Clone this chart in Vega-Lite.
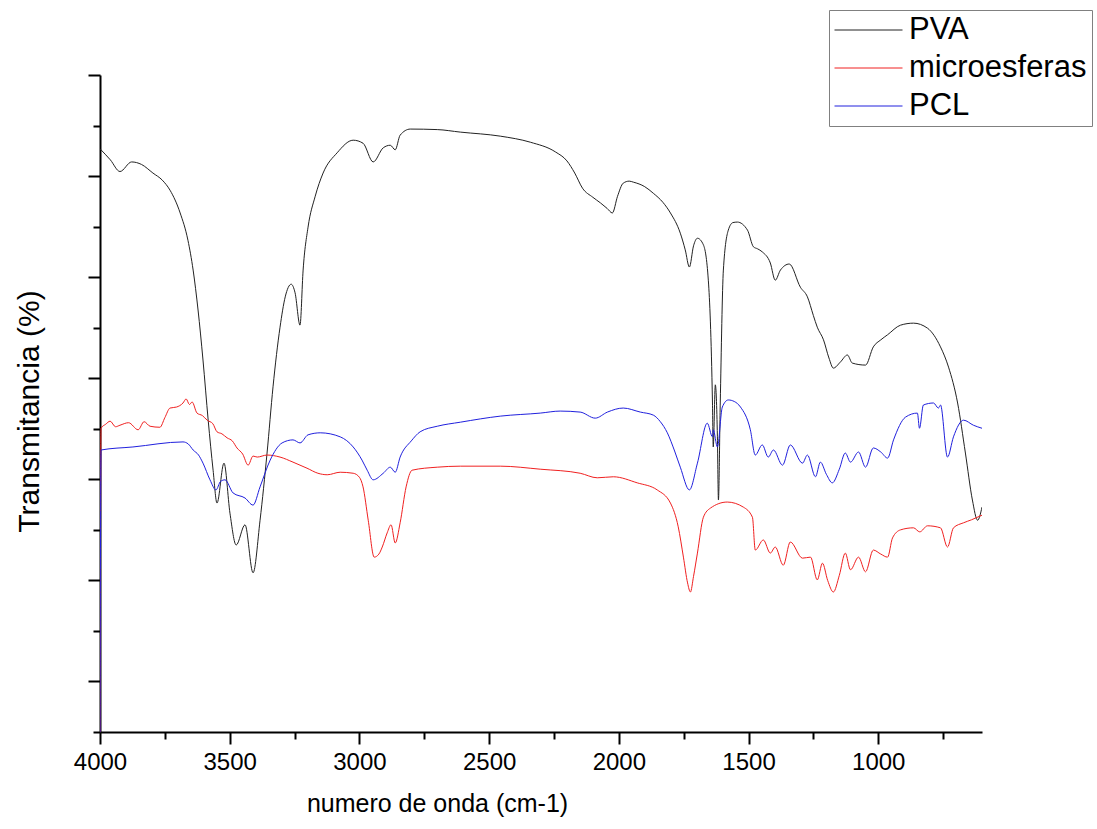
{
  "$schema": "https://vega.github.io/schema/vega-lite/v6.json",
  "width": 882,
  "height": 657,
  "autosize": {"type": "none"},
  "padding": {"left": 100, "top": 75, "right": 115, "bottom": 97},
  "background": "white",
  "config": {"view": {"stroke": null}},
  "data": {"values": [
{"s":"PVA","x":4000,"y":115.4},{"s":"PVA","x":3960,"y":113.2},{"s":"PVA","x":3923,"y":110.9},{"s":"PVA","x":3878,"y":112.8},{"s":"PVA","x":3840,"y":112.3},{"s":"PVA","x":3796,"y":110.6},{"s":"PVA","x":3760,"y":109.2},{"s":"PVA","x":3730,"y":107.2},{"s":"PVA","x":3691,"y":102.7},{"s":"PVA","x":3661,"y":97.3},{"s":"PVA","x":3641,"y":91.4},{"s":"PVA","x":3622,"y":83.5},{"s":"PVA","x":3603,"y":73.6},{"s":"PVA","x":3583,"y":61.7},{"s":"PVA","x":3564,"y":51.8},{"s":"PVA","x":3549,"y":45.3},{"s":"PVA","x":3522,"y":53.2},{"s":"PVA","x":3499,"y":43.3},{"s":"PVA","x":3475,"y":37.0},{"s":"PVA","x":3441,"y":41.0},{"s":"PVA","x":3410,"y":31.5},{"s":"PVA","x":3383,"y":41.9},{"s":"PVA","x":3356,"y":55.2},{"s":"PVA","x":3333,"y":68.3},{"s":"PVA","x":3306,"y":80.1},{"s":"PVA","x":3286,"y":86.1},{"s":"PVA","x":3263,"y":88.6},{"s":"PVA","x":3248,"y":86.9},{"s":"PVA","x":3229,"y":80.5},{"s":"PVA","x":3217,"y":91.4},{"s":"PVA","x":3198,"y":99.9},{"s":"PVA","x":3171,"y":105.9},{"s":"PVA","x":3140,"y":110.6},{"s":"PVA","x":3086,"y":114.6},{"s":"PVA","x":3024,"y":117.1},{"s":"PVA","x":2986,"y":116.5},{"s":"PVA","x":2947,"y":112.8},{"s":"PVA","x":2908,"y":115.6},{"s":"PVA","x":2881,"y":116.1},{"s":"PVA","x":2862,"y":115.2},{"s":"PVA","x":2843,"y":118.1},{"s":"PVA","x":2804,"y":119.3},{"s":"PVA","x":2700,"y":119.2},{"s":"PVA","x":2611,"y":118.7},{"s":"PVA","x":2457,"y":117.9},{"s":"PVA","x":2341,"y":116.7},{"s":"PVA","x":2245,"y":114.8},{"s":"PVA","x":2200,"y":113.0},{"s":"PVA","x":2170,"y":110.6},{"s":"PVA","x":2140,"y":107.6},{"s":"PVA","x":2100,"y":105.8},{"s":"PVA","x":2071,"y":104.7},{"s":"PVA","x":2045,"y":103.6},{"s":"PVA","x":2025,"y":102.7},{"s":"PVA","x":2005,"y":106.0},{"s":"PVA","x":1983,"y":108.6},{"s":"PVA","x":1960,"y":109.0},{"s":"PVA","x":1944,"y":108.8},{"s":"PVA","x":1900,"y":107.9},{"s":"PVA","x":1867,"y":106.6},{"s":"PVA","x":1830,"y":104.8},{"s":"PVA","x":1801,"y":102.7},{"s":"PVA","x":1763,"y":98.7},{"s":"PVA","x":1744,"y":95.4},{"s":"PVA","x":1728,"y":92.0},{"s":"PVA","x":1712,"y":96.2},{"s":"PVA","x":1697,"y":97.7},{"s":"PVA","x":1674,"y":96.4},{"s":"PVA","x":1655,"y":89.4},{"s":"PVA","x":1639,"y":65.1},{"s":"PVA","x":1636,"y":56.4},{"s":"PVA","x":1628,"y":68.7},{"s":"PVA","x":1620,"y":58.4},{"s":"PVA","x":1616,"y":45.9},{"s":"PVA","x":1609,"y":65.1},{"s":"PVA","x":1597,"y":91.4},{"s":"PVA","x":1578,"y":99.3},{"s":"PVA","x":1560,"y":100.8},{"s":"PVA","x":1543,"y":100.9},{"s":"PVA","x":1504,"y":99.3},{"s":"PVA","x":1481,"y":96.0},{"s":"PVA","x":1465,"y":95.6},{"s":"PVA","x":1447,"y":95.0},{"s":"PVA","x":1416,"y":92.8},{"s":"PVA","x":1397,"y":89.4},{"s":"PVA","x":1377,"y":91.4},{"s":"PVA","x":1343,"y":92.6},{"s":"PVA","x":1300,"y":88.0},{"s":"PVA","x":1273,"y":86.1},{"s":"PVA","x":1250,"y":82.4},{"s":"PVA","x":1235,"y":80.1},{"s":"PVA","x":1211,"y":77.6},{"s":"PVA","x":1190,"y":74.0},{"s":"PVA","x":1173,"y":72.0},{"s":"PVA","x":1146,"y":73.2},{"s":"PVA","x":1119,"y":74.6},{"s":"PVA","x":1100,"y":73.0},{"s":"PVA","x":1049,"y":72.6},{"s":"PVA","x":1019,"y":76.2},{"s":"PVA","x":990,"y":77.6},{"s":"PVA","x":964,"y":78.6},{"s":"PVA","x":914,"y":80.5},{"s":"PVA","x":864,"y":80.9},{"s":"PVA","x":810,"y":79.9},{"s":"PVA","x":760,"y":76.2},{"s":"PVA","x":729,"y":72.2},{"s":"PVA","x":694,"y":65.1},{"s":"PVA","x":664,"y":55.2},{"s":"PVA","x":637,"y":45.9},{"s":"PVA","x":617,"y":41.9},{"s":"PVA","x":600,"y":44.5},
{"s":"microesferas","x":4000,"y":0},{"s":"microesferas","x":3996,"y":60.1},{"s":"microesferas","x":3978,"y":60.9},{"s":"microesferas","x":3961,"y":61.5},{"s":"microesferas","x":3940,"y":60.4},{"s":"microesferas","x":3923,"y":60.7},{"s":"microesferas","x":3890,"y":61.2},{"s":"microesferas","x":3853,"y":59.8},{"s":"microesferas","x":3830,"y":61.4},{"s":"microesferas","x":3807,"y":60.5},{"s":"microesferas","x":3769,"y":60.3},{"s":"microesferas","x":3750,"y":62.2},{"s":"microesferas","x":3730,"y":64.1},{"s":"microesferas","x":3705,"y":64.3},{"s":"microesferas","x":3680,"y":65.1},{"s":"microesferas","x":3668,"y":65.9},{"s":"microesferas","x":3655,"y":64.8},{"s":"microesferas","x":3645,"y":65.3},{"s":"microesferas","x":3626,"y":63.1},{"s":"microesferas","x":3605,"y":62.6},{"s":"microesferas","x":3587,"y":61.7},{"s":"microesferas","x":3565,"y":61.0},{"s":"microesferas","x":3549,"y":59.4},{"s":"microesferas","x":3530,"y":59.0},{"s":"microesferas","x":3510,"y":58.2},{"s":"microesferas","x":3490,"y":57.6},{"s":"microesferas","x":3472,"y":56.2},{"s":"microesferas","x":3450,"y":55.0},{"s":"microesferas","x":3429,"y":52.8},{"s":"microesferas","x":3410,"y":54.6},{"s":"microesferas","x":3394,"y":54.4},{"s":"microesferas","x":3356,"y":54.8},{"s":"microesferas","x":3306,"y":54.4},{"s":"microesferas","x":3256,"y":53.4},{"s":"microesferas","x":3202,"y":52.2},{"s":"microesferas","x":3160,"y":51.2},{"s":"microesferas","x":3124,"y":50.9},{"s":"microesferas","x":3074,"y":51.4},{"s":"microesferas","x":3024,"y":51.2},{"s":"microesferas","x":3000,"y":50.4},{"s":"microesferas","x":2986,"y":48.5},{"s":"microesferas","x":2966,"y":41.9},{"s":"microesferas","x":2943,"y":34.6},{"s":"microesferas","x":2925,"y":35.2},{"s":"microesferas","x":2912,"y":36.6},{"s":"microesferas","x":2893,"y":39.4},{"s":"microesferas","x":2878,"y":41.0},{"s":"microesferas","x":2862,"y":37.4},{"s":"microesferas","x":2843,"y":41.4},{"s":"microesferas","x":2820,"y":48.5},{"s":"microesferas","x":2797,"y":51.8},{"s":"microesferas","x":2700,"y":52.4},{"s":"microesferas","x":2611,"y":52.6},{"s":"microesferas","x":2457,"y":52.6},{"s":"microesferas","x":2303,"y":52.0},{"s":"microesferas","x":2149,"y":51.2},{"s":"microesferas","x":2083,"y":50.3},{"s":"microesferas","x":2021,"y":50.5},{"s":"microesferas","x":1929,"y":49.3},{"s":"microesferas","x":1852,"y":47.9},{"s":"microesferas","x":1801,"y":45.3},{"s":"microesferas","x":1771,"y":40.6},{"s":"microesferas","x":1751,"y":34.6},{"s":"microesferas","x":1735,"y":29.5},{"s":"microesferas","x":1724,"y":27.7},{"s":"microesferas","x":1712,"y":30.8},{"s":"microesferas","x":1697,"y":35.4},{"s":"microesferas","x":1674,"y":42.5},{"s":"microesferas","x":1647,"y":44.3},{"s":"microesferas","x":1582,"y":45.5},{"s":"microesferas","x":1520,"y":44.5},{"s":"microesferas","x":1485,"y":42.5},{"s":"microesferas","x":1474,"y":36.0},{"s":"microesferas","x":1443,"y":38.0},{"s":"microesferas","x":1416,"y":35.4},{"s":"microesferas","x":1397,"y":36.6},{"s":"microesferas","x":1366,"y":33.0},{"s":"microesferas","x":1339,"y":37.6},{"s":"microesferas","x":1292,"y":34.4},{"s":"microesferas","x":1261,"y":34.6},{"s":"microesferas","x":1235,"y":30.1},{"s":"microesferas","x":1215,"y":33.4},{"s":"microesferas","x":1195,"y":30.0},{"s":"microesferas","x":1173,"y":27.7},{"s":"microesferas","x":1150,"y":31.0},{"s":"microesferas","x":1127,"y":35.4},{"s":"microesferas","x":1107,"y":32.1},{"s":"microesferas","x":1076,"y":34.6},{"s":"microesferas","x":1049,"y":31.7},{"s":"microesferas","x":1019,"y":36.0},{"s":"microesferas","x":990,"y":35.2},{"s":"microesferas","x":964,"y":34.6},{"s":"microesferas","x":945,"y":38.4},{"s":"microesferas","x":914,"y":40.0},{"s":"microesferas","x":864,"y":40.4},{"s":"microesferas","x":840,"y":39.6},{"s":"microesferas","x":810,"y":40.8},{"s":"microesferas","x":760,"y":40.4},{"s":"microesferas","x":733,"y":36.6},{"s":"microesferas","x":710,"y":40.4},{"s":"microesferas","x":671,"y":41.4},{"s":"microesferas","x":640,"y":42.0},{"s":"microesferas","x":600,"y":42.9},
{"s":"PCL","x":4000,"y":0},{"s":"PCL","x":3996,"y":55.8},{"s":"PCL","x":3873,"y":56.4},{"s":"PCL","x":3680,"y":57.4},{"s":"PCL","x":3660,"y":57.0},{"s":"PCL","x":3641,"y":55.8},{"s":"PCL","x":3620,"y":54.8},{"s":"PCL","x":3603,"y":53.2},{"s":"PCL","x":3576,"y":49.9},{"s":"PCL","x":3553,"y":47.9},{"s":"PCL","x":3535,"y":49.6},{"s":"PCL","x":3518,"y":49.9},{"s":"PCL","x":3487,"y":47.3},{"s":"PCL","x":3441,"y":46.3},{"s":"PCL","x":3410,"y":44.9},{"s":"PCL","x":3383,"y":48.5},{"s":"PCL","x":3344,"y":53.8},{"s":"PCL","x":3298,"y":57.2},{"s":"PCL","x":3256,"y":57.8},{"s":"PCL","x":3229,"y":57.2},{"s":"PCL","x":3198,"y":58.8},{"s":"PCL","x":3151,"y":59.2},{"s":"PCL","x":3074,"y":58.4},{"s":"PCL","x":3024,"y":56.4},{"s":"PCL","x":2990,"y":53.8},{"s":"PCL","x":2970,"y":51.8},{"s":"PCL","x":2947,"y":49.9},{"s":"PCL","x":2908,"y":51.2},{"s":"PCL","x":2881,"y":52.4},{"s":"PCL","x":2862,"y":51.4},{"s":"PCL","x":2843,"y":54.4},{"s":"PCL","x":2800,"y":57.6},{"s":"PCL","x":2766,"y":59.4},{"s":"PCL","x":2700,"y":60.5},{"s":"PCL","x":2611,"y":61.3},{"s":"PCL","x":2457,"y":62.5},{"s":"PCL","x":2303,"y":63.1},{"s":"PCL","x":2226,"y":63.5},{"s":"PCL","x":2149,"y":63.3},{"s":"PCL","x":2091,"y":62.1},{"s":"PCL","x":2044,"y":63.3},{"s":"PCL","x":1983,"y":64.1},{"s":"PCL","x":1917,"y":63.3},{"s":"PCL","x":1867,"y":62.7},{"s":"PCL","x":1840,"y":61.4},{"s":"PCL","x":1813,"y":59.2},{"s":"PCL","x":1785,"y":55.6},{"s":"PCL","x":1763,"y":52.4},{"s":"PCL","x":1728,"y":47.9},{"s":"PCL","x":1697,"y":53.2},{"s":"PCL","x":1659,"y":61.1},{"s":"PCL","x":1639,"y":58.4},{"s":"PCL","x":1636,"y":59.8},{"s":"PCL","x":1620,"y":56.4},{"s":"PCL","x":1601,"y":64.3},{"s":"PCL","x":1578,"y":65.7},{"s":"PCL","x":1555,"y":65.4},{"s":"PCL","x":1531,"y":64.3},{"s":"PCL","x":1493,"y":59.8},{"s":"PCL","x":1474,"y":54.8},{"s":"PCL","x":1447,"y":56.8},{"s":"PCL","x":1424,"y":54.4},{"s":"PCL","x":1404,"y":55.8},{"s":"PCL","x":1369,"y":52.8},{"s":"PCL","x":1339,"y":56.8},{"s":"PCL","x":1292,"y":53.2},{"s":"PCL","x":1273,"y":54.8},{"s":"PCL","x":1242,"y":50.5},{"s":"PCL","x":1223,"y":53.4},{"s":"PCL","x":1200,"y":51.0},{"s":"PCL","x":1177,"y":49.3},{"s":"PCL","x":1150,"y":52.0},{"s":"PCL","x":1127,"y":55.2},{"s":"PCL","x":1107,"y":53.4},{"s":"PCL","x":1076,"y":55.4},{"s":"PCL","x":1049,"y":52.4},{"s":"PCL","x":1019,"y":56.2},{"s":"PCL","x":990,"y":55.4},{"s":"PCL","x":964,"y":54.2},{"s":"PCL","x":941,"y":57.8},{"s":"PCL","x":895,"y":62.3},{"s":"PCL","x":849,"y":63.1},{"s":"PCL","x":841,"y":60.1},{"s":"PCL","x":826,"y":64.7},{"s":"PCL","x":787,"y":65.1},{"s":"PCL","x":768,"y":64.1},{"s":"PCL","x":760,"y":64.7},{"s":"PCL","x":733,"y":54.4},{"s":"PCL","x":710,"y":58.4},{"s":"PCL","x":671,"y":61.7},{"s":"PCL","x":633,"y":60.7},{"s":"PCL","x":600,"y":60.1}
  ]},
  "mark": {"type": "line", "strokeWidth": 1, "clip": true, "interpolate": "monotone"},
  "encoding": {
    "x": {
      "field": "x", "type": "quantitative",
      "scale": {"domain": [600, 4000], "reverse": true, "nice": false, "zero": false},
      "axis": {
        "title": "numero de onda (cm-1)",
        "values": [750,1000,1250,1500,1750,2000,2250,2500,2750,3000,3250,3500,3750,4000],
        "format": "d",
        "labelExpr": "datum.value % 500 == 0 ? datum.label : ''",
        "grid": false,
        "domainColor": "#000", "domainWidth": 2,
        "tickColor": "#000", "tickWidth": 2,
        "tickSize": {"condition": {"test": "datum.value % 500 == 0", "value": 12}, "value": 7},
        "labelFont": "Liberation Sans", "labelFontSize": 24, "labelColor": "#000",
        "labelPadding": 6, "labelFlush": false, "labelOverlap": false,
        "titleFont": "Liberation Sans", "titleFontSize": 25, "titleFontWeight": "normal", "titleColor": "#000",
        "titleX": 337, "titleY": 79, "titleBaseline": "alphabetic", "titleAnchor": null
      }
    },
    "y": {
      "field": "y", "type": "quantitative",
      "scale": {"domain": [0, 130], "nice": false, "zero": false},
      "axis": {
        "title": "Transmitancia (%)",
        "values": [0,10,20,30,40,50,60,70,80,90,100,110,120,130],
        "labels": false,
        "grid": false,
        "domainColor": "#000", "domainWidth": 2,
        "tickColor": "#000", "tickWidth": 2,
        "tickSize": {"condition": {"test": "datum.value % 20 != 0", "value": 12}, "value": 7},
        "titleFont": "Liberation Sans", "titleFontSize": 30, "titleFontWeight": "normal", "titleColor": "#000",
        "titleX": -62, "titleY": 336, "titleBaseline": "alphabetic", "titleAngle": -90
      }
    },
    "color": {
      "field": "s", "type": "nominal",
      "scale": {"domain": ["PVA", "microesferas", "PCL"], "range": ["#222222", "#f02020", "#2020dd"]},
      "legend": {
        "title": null,
        "orient": "none", "legendX": 729, "legendY": -65,
        "padding": 5,
        "strokeColor": "#808080", "fillColor": "#ffffff",
        "symbolType": "stroke", "symbolSize": 4624, "symbolStrokeWidth": 1,
        "clipHeight": 30, "rowPadding": 7,
        "labelFont": "Liberation Sans", "labelFontSize": 31, "labelColor": "#000",
        "labelOffset": 6, "labelLimit": 400
      }
    },
    "order": {"field": "x", "type": "quantitative"}
  }
}
